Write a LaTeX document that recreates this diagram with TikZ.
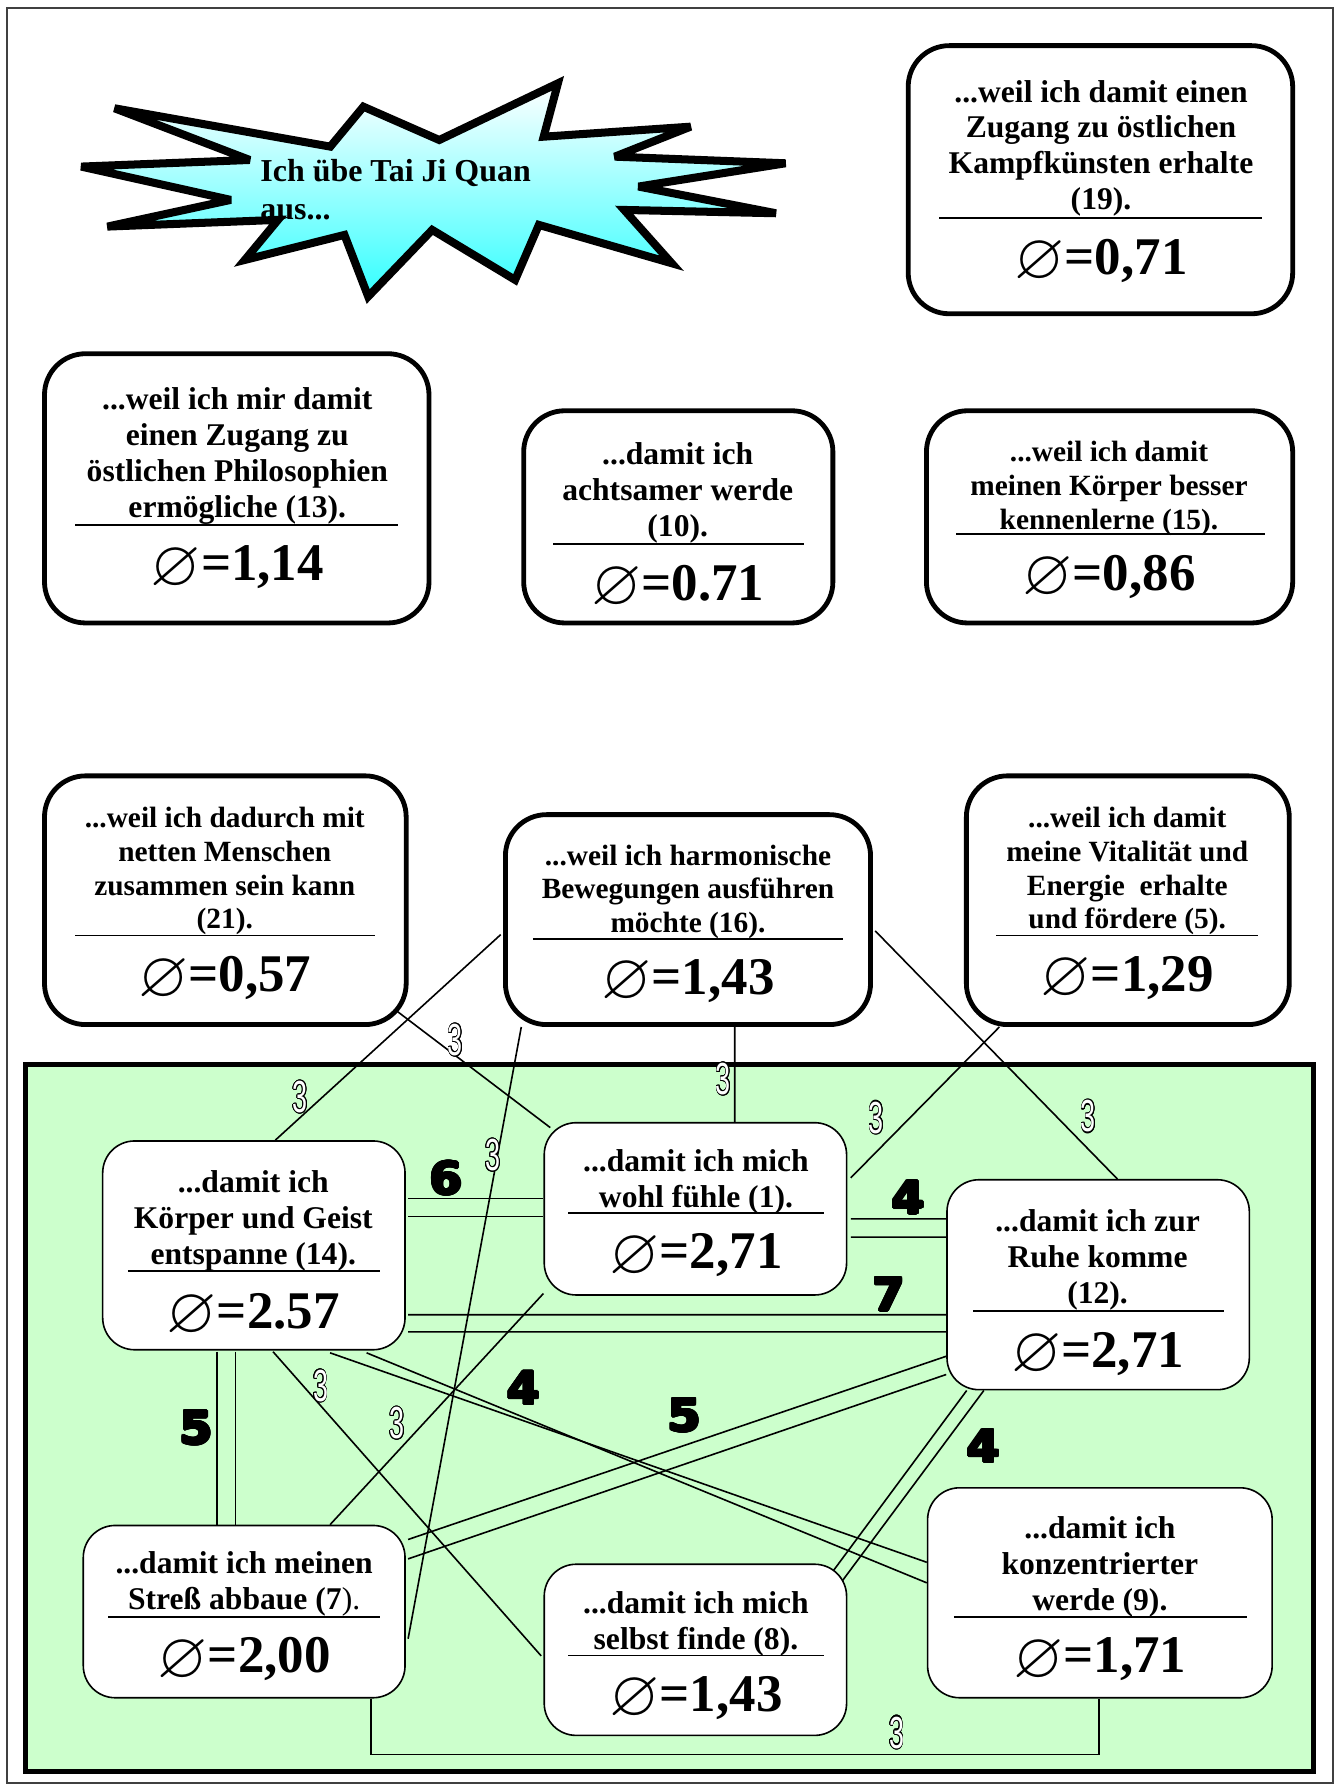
\documentclass[tikz,border=0pt]{standalone}
\usepackage{fontspec}
\setmainfont{Liberation Serif}
\newfontfamily\numfont{Liberation Sans}
\newfontfamily\heavyfont{DejaVu Sans}
\usepackage{amssymb}
\usepackage{graphicx}
\usepackage[copies]{contour}
\contourlength{0.7pt}
\usetikzlibrary{fit,calc}
\pgfdeclarelayer{background}
\pgfsetlayers{background,main}

\newcommand{\dm}[1]{\raisebox{-0.08em}{\scalebox{1.22}{$\varnothing$}}=#1}
\newcommand{\hollow}[1]{\scalebox{0.6}[1]{\contour{black}{\textcolor{white}{#1}}}}
\newcommand{\heavy}[1]{{\contourlength{0.8pt}\scalebox{1.05}[1]{\contour{black}{#1}}}}
\definecolor{mint}{RGB}{204,255,204}
\definecolor{aqua}{RGB}{51,255,255}

\begin{document}
\begin{tikzpicture}[x=0.025cm, y=-0.025cm,
  topbox/.style={draw, line width=3pt, rounded corners=0.9cm, fill=white, inner sep=0pt},
  innerbox/.style={draw, line width=1pt, rounded corners=0.7cm, fill=white, inner sep=0pt},
  reason/.style={align=center, font=\fontsize{19.7}{22.4}\selectfont\bfseries},
  smallreason/.style={align=center, font=\fontsize{18.3}{21}\selectfont\bfseries},
  mean/.style={font=\fontsize{33}{36}\selectfont\bfseries},
  wlabel/.style={font=\fontsize{28}{28}\selectfont\heavyfont\bfseries, inner sep=0pt},
  minor/.style={font=\fontsize{28}{28}\selectfont\numfont, inner sep=0pt}]
  \useasboundingbox (0,0) rectangle (1174,1568);
  \draw[line width=1.2pt, black!75] (6,7) rectangle (1168,1563);

  % star
  \draw[line width=5pt, miter limit=4, top color=white, bottom color=aqua]
    (100.4,94.9) -- (289.5,128.5) -- (318.5,93.5) -- (385,122.7) -- (489,73)
    -- (476.5,119.8) -- (605.3,111) -- (538.8,137.3) -- (688.5,143.1)
    -- (559.6,163.5) -- (680.1,186.9) -- (547.1,184) -- (588.7,230.7)
    -- (472.3,197.1) -- (451.5,245.3) -- (378.8,201.5) -- (322.7,259.9)
    -- (301.9,205.9) -- (214.6,227.8) -- (243.7,192.7) -- (94.1,198.6)
    -- (202.2,175.2) -- (71.2,146) -- (218.9,140.2) -- cycle;
  \node[anchor=west, align=left, font=\fontsize{19.9}{23.5}\selectfont\bfseries,
    inner sep=0pt] (title) at (228,166) {Ich übe Tai Ji Quan\\aus...};

  % upper boxes
  \node[topbox, fit={(796,40) (1133,275)}] (b19) {};
  \node[reason] (b19t) at (965,130) {...weil ich damit einen\\Zugang zu östlichen\\Kampfkünsten erhalte\\(19).};
  \draw[line width=1pt] (823,191) -- (1106,191);
  \node[mean] (b19v) at (965,229) {\dm{0,71}};

  \node[topbox, fit={(39,310) (376,546)}] (b13) {};
  \node[reason] (b13t) at (208,399.5) {...weil ich mir damit\\einen Zugang zu\\östlichen Philosophien\\ermögliche (13).};
  \draw[line width=1pt] (66,460) -- (349,460);
  \node[mean] (b13v) at (208,498) {\dm{1,14}};

  \node[topbox, fit={(459,360) (730,546)}] (b10) {};
  \node[reason] (b10t) at (594,432) {...damit ich\\achtsamer werde\\(10).};
  \draw[line width=1pt] (485,477) -- (705,477);
  \node[mean] (b10v) at (594,515) {\dm{0.71}};

  \node[topbox, fit={(812,360) (1133,546)}] (b15) {};
  \node[smallreason] (b15t) at (972,428) {...weil ich damit\\meinen Körper besser\\kennenlerne (15).};
  \draw[line width=1pt] (838,468) -- (1109,468);
  \node[mean] (b15v) at (972,506) {\dm{0,86}};

  \node[topbox, fit={(39,680) (356,898)}] (b21) {};
  \node[smallreason] (b21t) at (197,763.5) {...weil ich dadurch mit\\netten Menschen\\zusammen sein kann\\(21).};
  \draw[line width=1pt] (66,820) -- (329,820);
  \node[mean] (b21v) at (197,858) {\dm{0,57}};

  \node[topbox, fit={(443,714) (763,898)}] (b16) {};
  \node[smallreason] (b16t) at (603,781.5) {...weil ich harmonische\\Bewegungen ausführen\\möchte (16).};
  \draw[line width=1pt] (467,823) -- (739,823);
  \node[mean] (b16v) at (603,860) {\dm{1,43}};

  \node[topbox, fit={(847,680) (1130,898)}] (b5) {};
  \node[smallreason] (b5t) at (988,763.5) {...weil ich damit\\meine Vitalität und\\Energie\ \ erhalte\\und fördere (5).};
  \draw[line width=1pt] (873,820) -- (1103,820);
  \node[mean] (b5v) at (988,858) {\dm{1,29}};

  % boxes in the green field
  \node[innerbox, fit={(90,1000) (355,1183)}] (b14) {};
  \node[reason] (b14t) at (222,1070) {...damit ich\\Körper und Geist\\entspanne (14).};
  \draw[line width=1pt] (112,1114) -- (333,1114);
  \node[mean] (b14v) at (222,1153) {\dm{2.57}};

  \node[innerbox, fit={(477,984) (742,1135)}] (b1) {};
  \node[reason] (b1t) at (610,1035.5) {...damit ich mich\\wohl fühle (1).};
  \draw[line width=1pt] (498,1063) -- (722,1063);
  \node[mean] (b1v) at (610,1101) {\dm{2,71}};

  \node[innerbox, fit={(830,1034) (1095,1218)}] (b12) {};
  \node[reason] (b12t) at (962,1104) {...damit ich zur\\Ruhe komme\\(12).};
  \draw[line width=1pt] (853,1149) -- (1073,1149);
  \node[mean] (b12v) at (962,1187) {\dm{2,71}};

  \node[innerbox, fit={(73,1337) (355,1488)}] (b7) {};
  \node[reason] (b7t) at (214,1388.5) {...damit ich meinen\\Streß abbaue (7\textmd{).}};
  \draw[line width=1pt] (95,1417) -- (333,1417);
  \node[mean] (b7v) at (214,1455) {\dm{2,00}};

  \node[innerbox, fit={(477,1371) (742,1521)}] (b8) {};
  \node[reason] (b8t) at (610,1423.5) {...damit ich mich\\selbst finde (8).};
  \draw[line width=1pt] (498,1451) -- (722,1451);
  \node[mean] (b8v) at (610,1489) {\dm{1,43}};

  \node[innerbox, fit={(813,1304) (1115,1488)}] (b9) {};
  \node[reason] (b9t) at (964,1373) {...damit ich\\konzentrierter\\werde (9).};
  \draw[line width=1pt] (836,1417) -- (1093,1417);
  \node[mean] (b9v) at (964,1455) {\dm{1,71}};

  \begin{pgfonlayer}{background}
    \draw[line width=3.2pt, fill=mint] (22,933) rectangle (1151,1553);

    % single links
    \draw[line width=1pt] ($(b16.south west)+(-2,-81)$) -- ($(b14.north west)+(152,0)$);
    \draw[line width=1pt] ($(b21.south east)+(-13,-16)$) -- ($(b1.north west)+(6,5)$);
    \draw[line width=1pt] ($(b16.south west)+(16,0)$) -- ($(b7.north east)+(2,100)$);
    \draw[line width=1pt] ($(b16.south)+(41,0)$) -- ($(b1.north)+(34.5,0)$);
    \draw[line width=1pt] ($(b5.south west)+(31,0)$) -- ($(b1.north east)+(3,49)$);
    \draw[line width=1pt] ($(b16.north east)+(2,104)$) -- ($(b12.north west)+(150,0)$);
    \draw[line width=1pt] ($(b14.south west)+(150,1)$) -- ($(b8.north west)+(-2,81)$);
    \draw[line width=1pt] ($(b1.south west)+(0,-2)$) -- ($(b7.north west)+(217,0)$);
    \draw[line width=1pt] ($(b7.south west)+(253,0)$) -- ++(0,49) -| ($(b9.south west)+(151,0)$);

    % double links
    \draw[line width=1pt] ($(b14.north east)+(2,51)$) -- ($(b1.north west)+(0,67)$);
    \draw[line width=1pt] ($(b14.north east)+(2,67)$) -- ($(b1.north west)+(0,83)$);
    \draw[line width=1pt] ($(b1.north east)+(3,85)$) -- ($(b12.north west)+(0,35)$);
    \draw[line width=1pt] ($(b1.north east)+(3,101)$) -- ($(b12.north west)+(0,51)$);
    \draw[line width=1pt] ($(b14.north east)+(2,153)$) -- ($(b12.north west)+(0,119)$);
    \draw[line width=1pt] ($(b14.north east)+(2,168)$) -- ($(b12.north west)+(0,134)$);
    \draw[line width=1pt] ($(b14.south west)+(101,1)$) -- ($(b7.north west)+(118,0)$);
    \draw[line width=1pt] ($(b14.south west)+(117,1)$) -- ($(b7.north west)+(134,0)$);
    \draw[line width=1pt] ($(b14.south west)+(200,2)$) -- ($(b9.north west)+(0,66)$);
    \draw[line width=1pt] ($(b14.south west)+(232,2)$) -- ($(b9.north west)+(0,84)$);
    \draw[line width=1pt] ($(b7.north east)+(2,13)$) -- ($(b12.south west)+(0,-30)$);
    \draw[line width=1pt] ($(b7.north east)+(2,30)$) -- ($(b12.south west)+(0,-14)$);
    \draw[line width=1pt] ($(b12.south west)+(18,0)$) -- ($(b8.north east)+(-15,10)$);
    \draw[line width=1pt] ($(b12.south west)+(33,0)$) -- ($(b8.north east)+(-5,16)$);
  \end{pgfonlayer}

  % link weights
  \node[minor] (w1) at (263,962) {\hollow{3}};
  \node[minor] (w2) at (399,912) {\hollow{3}};
  \node[minor] (w3) at (432,1013) {\hollow{3}};
  \node[minor] (w4) at (634,946) {\hollow{3}};
  \node[minor] (w5) at (768,980) {\hollow{3}};
  \node[minor] (w6) at (954,979) {\hollow{3}};
  \node[minor] (w7) at (281,1215) {\hollow{3}};
  \node[minor] (w8) at (348,1248) {\hollow{3}};
  \node[minor] (w9) at (786,1519) {\hollow{3}};

  \node[wlabel] (n6) at (391,1033) {\heavy{6}};
  \node[wlabel] (n4a) at (796,1050) {\heavy{4}};
  \node[wlabel] (n7) at (779,1135) {\heavy{7}};
  \node[wlabel] (n5a) at (172,1252) {\heavy{5}};
  \node[wlabel] (n4b) at (459,1217) {\heavy{4}};
  \node[wlabel] (n5b) at (600,1241) {\heavy{5}};
  \node[wlabel] (n4c) at (862,1268) {\heavy{4}};
\end{tikzpicture}
\end{document}
